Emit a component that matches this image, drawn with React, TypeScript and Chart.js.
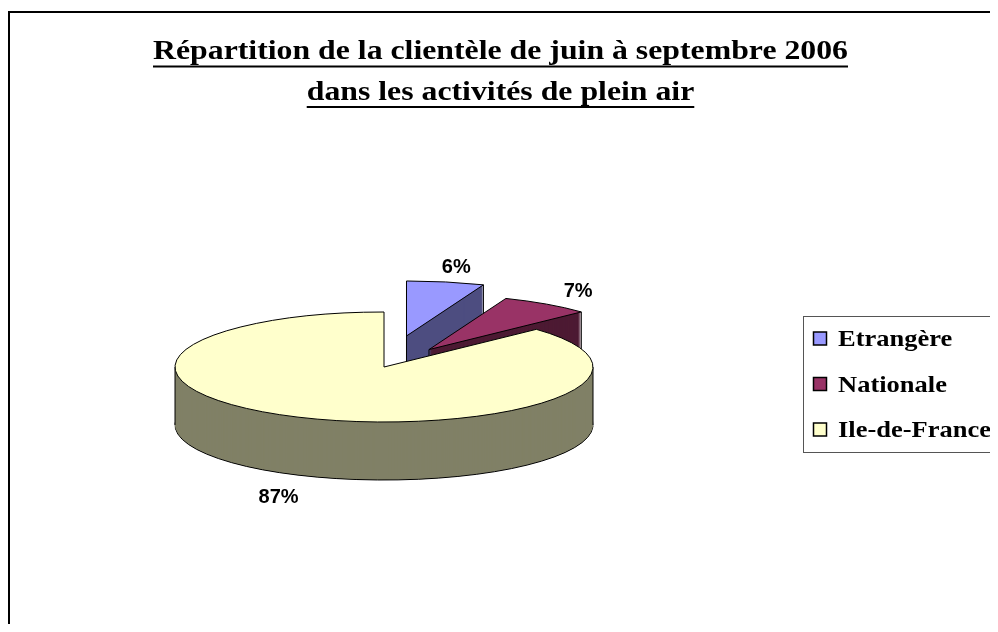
import React, { useEffect, useRef } from "react";
import { Chart, registerables } from "chart.js";

Chart.register(...registerables);

// ---- data ----
const categories = ["Etrangère", "Nationale", "Ile-de-France"];
const shares = [6, 7, 87];
const topColors = ["#9999FF", "#993366", "#FFFFCC"];
const sideColors = ["#4D4D80", "#4D1A33", "#808066"];
const explode = [120, 80, 0];
const titleLines = [
  "Répartition de la clientèle de juin à septembre 2006",
  "dans les activités de plein air",
];

// ---- style ----
const TILT = 55 / 209;
const DEPTH = 58;
const SERIF = "'Liberation Serif', 'Times New Roman', serif";
const SANS = "'Liberation Sans', Arial, sans-serif";

const inRange = (a: number, s: number, e: number) => {
  for (const k of [-2, -1, 0, 1, 2]) {
    const b = a + k * 2 * Math.PI;
    if (b > s && b < e) return true;
  }
  return false;
};

const pie3d = {
  id: "pie3d",
  beforeDatasetsDraw(chart: any) {
    const ctx: CanvasRenderingContext2D = chart.ctx;
    const meta = chart.getDatasetMeta(0);
    const labels: { x: number; y: number; t: string }[] = [];
    const total = shares.reduce((a, b) => a + b, 0);
    meta.data.forEach((arc: any, i: number) => {
      const p = arc.getProps(["x", "y", "startAngle", "endAngle", "outerRadius"], true);
      const off = arc.options.offset || 0;
      const mid = (p.startAngle + p.endAngle) / 2;
      const ox = Math.cos(mid) * off;
      const oy = Math.sin(mid) * off;
      const r = p.outerRadius;
      const path = (shift: number) => {
        ctx.save();
        ctx.translate(p.x, p.y + shift);
        ctx.scale(1, TILT);
        ctx.beginPath();
        ctx.moveTo(ox, oy);
        ctx.arc(ox, oy, r, p.startAngle, p.endAngle);
        ctx.closePath();
        ctx.restore();
      };
      const pt = (a: number, shift: number) => ({
        x: p.x + ox + r * Math.cos(a),
        y: p.y + (oy + r * Math.sin(a)) * TILT + shift,
      });
      ctx.save();
      ctx.lineWidth = 1;
      ctx.strokeStyle = "#000";
      // bottom
      path(DEPTH);
      ctx.fillStyle = sideColors[i];
      ctx.fill();
      ctx.stroke();
      for (let d = DEPTH - 1; d >= 1; d--) {
        path(d);
        ctx.fill();
      }
      // vertical edges
      const verts: number[] = [];
      if (inRange(0, p.startAngle, p.endAngle)) verts.push(0);
      if (inRange(Math.PI, p.startAngle, p.endAngle)) verts.push(Math.PI);
      const endN = Math.atan2(Math.sin(p.endAngle), Math.cos(p.endAngle));
      let endVisible = false;
      if (endN < Math.PI / 2 && endN > -Math.PI / 2 && Math.abs(p.endAngle - p.startAngle) < Math.PI) {
        verts.push(p.endAngle);
        endVisible = true;
      }
      ctx.beginPath();
      for (const a of verts) {
        const t = pt(a, 0);
        ctx.moveTo(t.x, t.y);
        ctx.lineTo(t.x, t.y + DEPTH);
      }
      if (endVisible) {
        const cx = p.x + ox;
        const cy = p.y + oy * TILT;
        ctx.moveTo(cx, cy);
        ctx.lineTo(cx, cy + DEPTH);
      }
      ctx.stroke();
      // top face
      path(0);
      ctx.fillStyle = topColors[i];
      ctx.fill();
      ctx.stroke();
      ctx.restore();

      const lr = r * 1.27;
      const lx = p.x + ox + lr * Math.cos(mid);
      let ly = p.y + (oy + lr * Math.sin(mid)) * TILT;
      if (Math.sin(mid) > 0) ly += DEPTH + 8;
      labels.push({ x: lx, y: ly, t: Math.round((shares[i] / total) * 100) + "%" });
    });
    ctx.save();
    ctx.fillStyle = "#000";
    ctx.font = `bold 20px ${SANS}`;
    ctx.textAlign = "center";
    ctx.textBaseline = "middle";
    labels.forEach((l) => ctx.fillText(l.t, l.x, l.y));
    ctx.restore();
    return false;
  },
};

const stretchedText = (
  ctx: CanvasRenderingContext2D,
  text: string,
  x: number,
  y: number,
  sx: number,
  align: "center" | "left"
) => {
  const w = ctx.measureText(text).width * sx;
  const left = align === "center" ? x - w / 2 : x;
  ctx.save();
  ctx.translate(left, y);
  ctx.scale(sx, 1);
  ctx.textAlign = "left";
  ctx.fillText(text, 0, 0);
  ctx.restore();
  return { left, w };
};

const decorations = {
  id: "decorations",
  afterDraw(chart: any) {
    const ctx: CanvasRenderingContext2D = chart.ctx;
    ctx.save();
    // frame
    ctx.strokeStyle = "#000";
    ctx.lineWidth = 2;
    ctx.strokeRect(1, 4, 1200, 1200);
    // title
    ctx.font = `bold 28px ${SERIF}`;
    const sx = 695 / ctx.measureText(titleLines[0]).width;
    ctx.fillStyle = "#000";
    ctx.textBaseline = "alphabetic";
    const cx = 492.5;
    const baselines = [50.5, 92];
    const ulOffsets = [7, 6];
    titleLines.forEach((line, i) => {
      const { left, w } = stretchedText(ctx, line, cx, baselines[i], sx, "center");
      ctx.fillRect(left, baselines[i] + ulOffsets[i], w, 2);
    });
    // legend
    const lx = 795.5, ly = 308.5;
    ctx.lineWidth = 1;
    ctx.strokeStyle = "#555";
    ctx.strokeRect(lx, ly, 400, 136);
    ctx.font = `bold 23px ${SERIF}`;
    const lsx = 153 / ctx.measureText(categories[2]).width;
    ctx.textBaseline = "alphabetic";
    categories.forEach((c, i) => {
      const cy = ly + 22 + i * 45.5;
      ctx.fillStyle = topColors[i];
      ctx.fillRect(lx + 10, cy - 6.5, 13, 13);
      ctx.strokeStyle = "#000";
      ctx.lineWidth = 1.5;
      ctx.strokeRect(lx + 10, cy - 6.5, 13, 13);
      ctx.fillStyle = "#000";
      stretchedText(ctx, c, lx + 34.5, cy + 7.5, lsx, "left");
    });
    ctx.restore();
  },
};

export default function App() {
  const ref = useRef<HTMLCanvasElement>(null);
  useEffect(() => {
    document.documentElement.style.overflow = "hidden";
    const chart = new Chart(ref.current!, {
      type: "pie",
      data: {
        labels: categories,
        datasets: [
          {
            data: shares,
            backgroundColor: topColors,
            borderColor: "#000",
            borderWidth: 1,
            offset: explode,
          },
        ],
      },
      options: {
        animation: false,
        responsive: true,
        maintainAspectRatio: false,
        radius: 209,
        events: [],
        layout: { padding: { top: 102, bottom: 0, left: 0, right: 238 } },
        plugins: {
          legend: { display: false },
          tooltip: { enabled: false },
          title: { display: false },
        },
      } as any,
      plugins: [pie3d, decorations],
    });
    return () => chart.destroy();
  }, []);
  return (
    <div style={{ width: 990, height: 616, position: "relative", background: "#fff" }}>
      <canvas ref={ref} style={{ display: "block" }} />
    </div>
  );
}
